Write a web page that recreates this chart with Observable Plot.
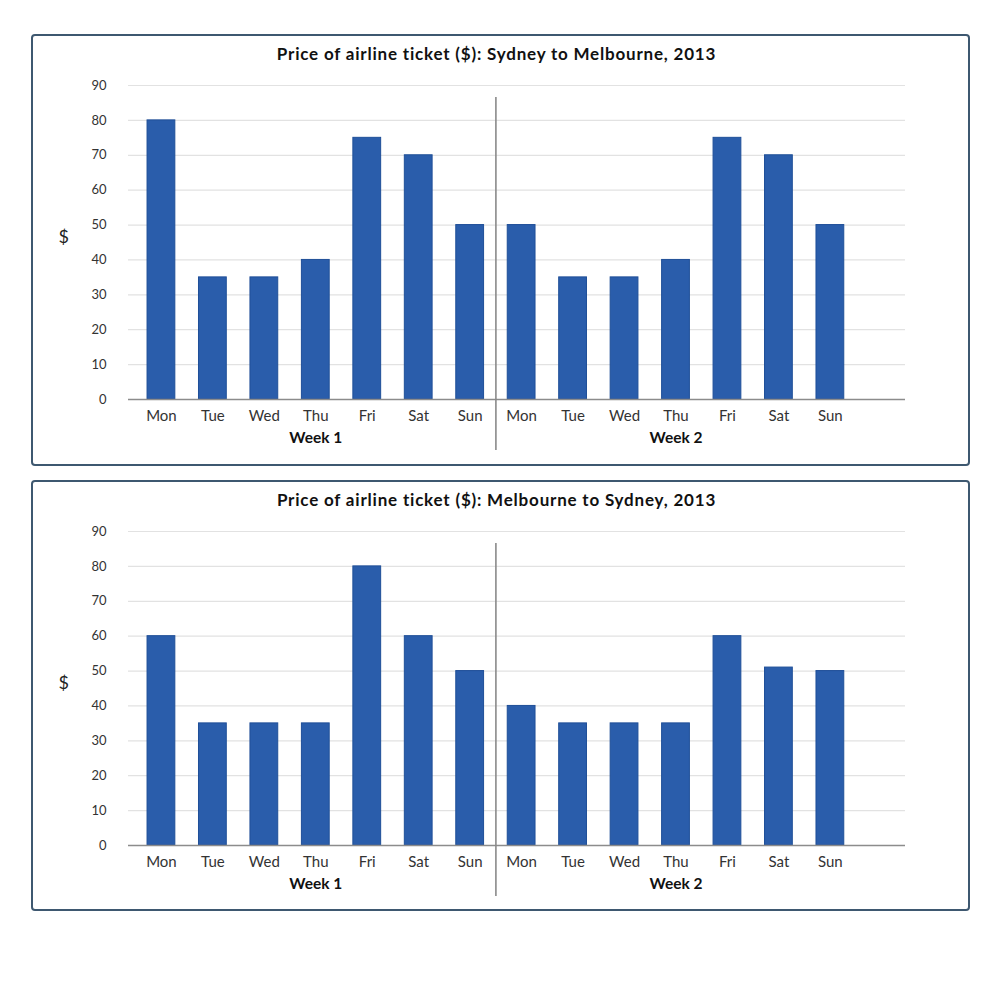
<!DOCTYPE html>
<html>
<head>
<meta charset="utf-8">
<script src="https://cdn.jsdelivr.net/npm/d3@7"></script>
<script src="https://cdn.jsdelivr.net/npm/@observablehq/plot@0.6"></script>
<style>
  html, body { margin: 0; padding: 0; background: #fff; }
  #page { position: relative; width: 1000px; height: 1000px; background: #fff; font-family: Lato, "Open Sans", sans-serif; }
  .panel { position: absolute; left: 31px; width: 935px; border: 2px solid #3e5870; border-radius: 4px; box-sizing: content-box; }
  .title { position: absolute; left: 0; width: 993px; text-align: center; font-weight: 700; font-size: 17px; letter-spacing: 0.8px; color: #111; }
  .chart { position: absolute; left: 0; }
</style>
</head>
<body>
<div id="page"></div>
<script>
// ---- data ----
const days = ["Mon", "Tue", "Wed", "Thu", "Fri", "Sat", "Sun"];
const weeks = ["Week 1", "Week 2"];
const sydToMelWeek1 = [80, 35, 35, 40, 75, 70, 50];
const sydToMelWeek2 = [50, 35, 35, 40, 75, 70, 50];
const melToSydWeek1 = [60, 35, 35, 35, 80, 60, 50];
const melToSydWeek2 = [40, 35, 35, 35, 60, 51, 50];
const yTicks = [0, 10, 20, 30, 40, 50, 60, 70, 80, 90];
const titles = [
  "Price of airline ticket ($): Sydney to Melbourne, 2013",
  "Price of airline ticket ($): Melbourne to Sydney, 2013"
];

const page = document.getElementById("page");

function makeChart(w1, w2) {
  const data = [];
  [w1, w2].forEach((vals, wi) => {
    vals.forEach((v, di) => data.push({ i: wi * days.length + di, day: days[di], week: weeks[wi], value: v }));
  });
  const labelsByIndex = data.map(d => d.day);
  const weekCenters = weeks.map((w, wi) => ({ week: w, i: wi * days.length + (days.length - 1) / 2 }));
  const divider = [days.length - 0.5];
  const half = 0.27;

  return Plot.plot({
    width: 1000,
    height: 470,
    marginTop: 85,
    marginBottom: 71,
    marginLeft: 128,
    marginRight: 95,
    style: { fontFamily: "Lato, 'Open Sans', sans-serif", background: "transparent" },
    x: { type: "linear", domain: [-0.64, 14.46], axis: null, label: null },
    y: { domain: [0, 90], axis: null, label: null },
    marks: [
      Plot.gridY(yTicks.filter(t => t > 0), { stroke: "#e2e2e2", strokeOpacity: 1, strokeWidth: 1.2 }),
      Plot.axisY(yTicks, { tickSize: 0, tickPadding: 22, fontSize: 13, fill: "#333", tickFormat: d => d, label: null }),
      Plot.axisX(data.map(d => d.i), {
        tickSize: 0, tickPadding: 11, fontSize: 15, fill: "#333",
        tickFormat: i => labelsByIndex[i], label: null
      }),
      Plot.rectY(data, {
        x1: d => d.i - half, x2: d => d.i + half, y: "value",
        fill: "#2a5dab", stroke: "#1f4f98", strokeWidth: 1
      }),
      Plot.ruleY([0], { stroke: "#8c8c8c", strokeWidth: 1.5 }),
      Plot.ruleX(divider, { stroke: "#8a8a8a", strokeWidth: 1.6, insetTop: 12, insetBottom: -51 }),
      Plot.text(weekCenters, {
        x: "i", frameAnchor: "bottom", dy: 43, text: "week",
        fontWeight: "bold", fontSize: 15.5, fill: "#111", style: "letter-spacing:0.6px"
      }),
      Plot.text(["$"], { frameAnchor: "left", dx: -70, dy: -5, text: d => d, fontSize: 18, fill: "#222" })
    ]
  });
}

const p1 = document.createElement("div");
p1.className = "panel"; p1.style.top = "34px"; p1.style.height = "428px";
page.appendChild(p1);
const p2 = document.createElement("div");
p2.className = "panel"; p2.style.top = "480px"; p2.style.height = "427px";
page.appendChild(p2);

const t1 = document.createElement("div");
t1.className = "title"; t1.textContent = titles[0]; t1.style.top = "43px";
page.appendChild(t1);
const t2 = document.createElement("div");
t2.className = "title"; t2.textContent = titles[1]; t2.style.top = "489px";
page.appendChild(t2);

const c1 = makeChart(sydToMelWeek1, sydToMelWeek2);
c1.classList.add("chart"); c1.style.top = "0px";
page.appendChild(c1);
const c2 = makeChart(melToSydWeek1, melToSydWeek2);
c2.classList.add("chart"); c2.style.top = "446px";
page.appendChild(c2);
</script>
</body>
</html>
